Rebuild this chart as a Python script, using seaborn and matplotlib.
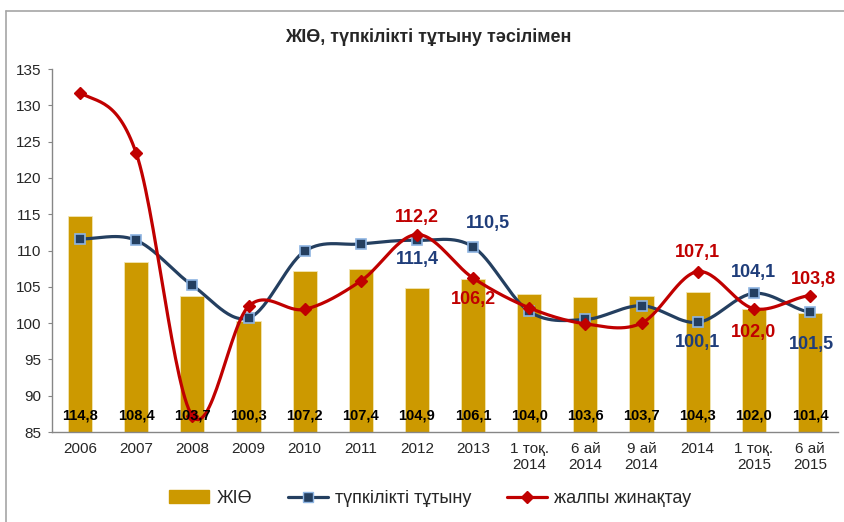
import numpy as np
import pandas as pd
import seaborn as sns
import matplotlib.pyplot as plt
from matplotlib.lines import Line2D
from matplotlib.patches import Patch

# chart data
periods = ["2006", "2007", "2008", "2009", "2010", "2011", "2012", "2013",
           "1 тоқ.\n2014", "6 ай\n2014", "9 ай\n2014", "2014", "1 тоқ.\n2015", "6 ай\n2015"]
gdp = [114.8, 108.4, 103.7, 100.3, 107.2, 107.4, 104.9, 106.1,
       104.0, 103.6, 103.7, 104.3, 102.0, 101.4]
consumption = [111.6, 111.4, 105.2, 100.7, 109.9, 110.9, 111.4, 110.5,
               101.6, 100.5, 102.4, 100.1, 104.1, 101.5]
accumulation = [131.7, 123.4, 87.2, 102.3, 101.9, 105.8, 112.2, 106.2,
                102.1, 99.9, 100.0, 107.1, 102.0, 103.8]

# labelled points: index -> (dx, dy) offset in pixels
cons_labels = {6: (0, -19), 7: (15, 23), 11: (0, -20), 12: (0, 21), 13: (1, -32)}
accum_labels = {6: (0, 17), 7: (0, -21), 11: (0, 19), 12: (0, -24), 13: (3, 16)}

BAR = "#CC9900"
BLUE = "#243F60"
BLUE_TXT = "#1F3D7A"
RED = "#C00000"


def smooth(y, n=30):
    """Catmull-Rom path through the points, like Excel's smoothed line."""
    y = np.asarray(y, dtype=float)
    x = np.arange(len(y), dtype=float)
    p = np.concatenate([[y[0]], y, [y[-1]]])
    px = np.concatenate([[x[0] - 1], x, [x[-1] + 1]])
    xs, ys = [], []
    for i in range(1, len(p) - 2):
        t = np.linspace(0, 1, n, endpoint=False)
        for arr, out in ((px, xs), (p, ys)):
            p0, p1, p2, p3 = arr[i - 1], arr[i], arr[i + 1], arr[i + 2]
            out.extend(0.5 * ((2 * p1) + (-p0 + p2) * t
                              + (2 * p0 - 5 * p1 + 4 * p2 - p3) * t ** 2
                              + (-p0 + 3 * p1 - 3 * p2 + p3) * t ** 3))
    xs.append(x[-1])
    ys.append(y[-1])
    return np.array(xs), np.array(ys)


def fmt(v):
    return f"{v:.1f}".replace(".", ",")


sns.set_style("white")
plt.rcParams["font.family"] = ["Liberation Sans", "DejaVu Sans"]

fig = plt.figure(figsize=(8.44, 5.22), dpi=100)
ax = fig.add_axes([0.0616, 0.1724, 0.9314, 0.6954])

df = pd.DataFrame({"period": periods, "gdp": gdp})
sns.barplot(data=df, x="period", y="gdp", color=BAR, saturation=1,
            width=0.43, ax=ax)

# bars start at the axis floor
for patch in ax.patches:
    patch.set_y(85)
    patch.set_height(patch.get_height() - 85)
    patch.set_edgecolor("#F2E6B3")
    patch.set_linewidth(0.6)

xs, ys = smooth(consumption)
ax.plot(xs, ys, color=BLUE, lw=2.3, zorder=3, solid_capstyle="round")
ax.plot(range(len(consumption)), consumption, ls="none", marker="s", ms=7,
        mfc=BLUE, mec="#8DB4E2", mew=1.2, zorder=4)

xs, ys = smooth(accumulation)
ax.plot(xs, ys, color=RED, lw=2.3, zorder=5, solid_capstyle="round")
ax.plot(range(len(accumulation)), accumulation, ls="none", marker="D", ms=6.5,
        mfc=RED, mec=RED, zorder=6)

for i, v in enumerate(gdp):
    ax.text(i, 87.3, fmt(v), ha="center", va="center", fontsize=10.5,
            fontweight="bold", color="black", zorder=7)

px = 0.72  # points per pixel at dpi 100
for i, (dx, dy) in cons_labels.items():
    ax.annotate(fmt(consumption[i]), (i, consumption[i]), xytext=(dx * px, dy * px),
                textcoords="offset points", ha="center", va="center", fontsize=13,
                fontweight="bold", color=BLUE_TXT, zorder=7)

for i, (dx, dy) in accum_labels.items():
    ax.annotate(fmt(accumulation[i]), (i, accumulation[i]), xytext=(dx * px, dy * px),
                textcoords="offset points", ha="center", va="center", fontsize=13,
                fontweight="bold", color=RED, zorder=7)

ax.set_ylim(85, 135)
ax.set_yticks(range(85, 136, 5))
ax.set_xlim(-0.5, len(periods) - 0.5)
ax.set_xlabel("")
ax.set_ylabel("")
ax.tick_params(axis="y", labelsize=11, length=3, color="#868686", direction="out",
               left=True, pad=5)
ax.tick_params(axis="x", labelsize=11, length=0, pad=7)
for s in ["top", "right"]:
    ax.spines[s].set_visible(False)
for s in ["left", "bottom"]:
    ax.spines[s].set_color("#868686")
    ax.spines[s].set_linewidth(1)

fig.text(0.508, 0.929, "ЖІӨ, түпкілікті тұтыну тәсілімен", ha="center", va="center",
         fontsize=13, fontweight="bold")

handles = [Patch(color=BAR),
           Line2D([], [], color=BLUE, lw=2.3, marker="s", ms=7, mfc=BLUE, mec="#8DB4E2"),
           Line2D([], [], color=RED, lw=2.3, marker="D", ms=6.5, mfc=RED, mec=RED)]
fig.legend(handles, ["ЖІӨ", "түпкілікті тұтыну", "жалпы жинақтау"],
           loc="center", bbox_to_anchor=(0.51, 0.045), ncol=3, frameon=False,
           fontsize=13, handlelength=2.2, columnspacing=2.0, handletextpad=0.4)

# chart-area border (left and top edges visible)
fig.add_artist(Line2D([0.0075, 0.0075], [0, 0.979], color="#A6A6A6", lw=1.2))
fig.add_artist(Line2D([0.0075, 1], [0.979, 0.979], color="#A6A6A6", lw=1.2))

fig.savefig("out.png", dpi=100)
